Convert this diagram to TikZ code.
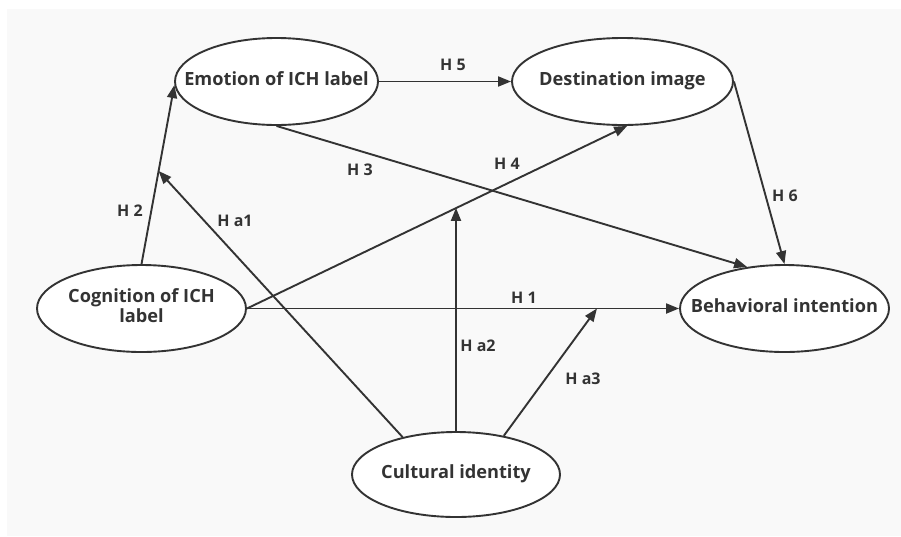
\documentclass[tikz,border=0pt]{standalone}
\usepackage{fontspec}
\setmainfont{Open Sans}
\usetikzlibrary{shapes.geometric,arrows.meta,calc}
\definecolor{ink}{HTML}{333333}
\definecolor{paper}{HTML}{F9F9F9}
% zero-width box so the ellipse keeps its own size
\newcommand{\ctext}[1]{\makebox[0pt][c]{\begin{tabular}{@{}c@{}}#1\end{tabular}}}
\begin{document}
\begin{tikzpicture}[x=1pt,y=-1pt,
  construct/.style={ellipse,draw=ink,line width=1.9pt,fill=white,inner sep=0pt,
    minimum height=87pt,text=ink,font=\fontsize{18.2}{20.5}\selectfont\bfseries},
  path/.style={draw=ink,line width=1.9pt,-{Triangle[length=13pt,width=10pt]}},
  hyp/.style={text=ink,font=\fontsize{16}{18}\selectfont\bfseries,inner sep=0pt}]
  % canvas
  \fill[white] (0,0) rectangle (901,536);
  \fill[paper] (7,9) rectangle (901,536);
  \useasboundingbox (0,0) rectangle (901,536);

  % latent constructs
  \node[construct,minimum width=203pt] (emo)  at (276.5,81.5) {\ctext{Emotion of ICH label}};
  \node[construct,minimum width=221pt] (dest) at (622.5,81.5) {\ctext{Destination image}};
  \node[construct,minimum width=209pt] (cog)  at (141.5,308.5) {\ctext{Cognition of ICH\\label}};
  \node[construct,minimum width=209pt] (beh)  at (784.5,308.5) {\ctext{Behavioral intention}};
  \node[construct,minimum width=208pt,minimum height=85pt] (cult) at (456,474.5) {\ctext{Cultural identity}};

  % direct hypotheses
  \draw[path] (cog.north) -- (emo.182);
  \draw[path] (emo.east) -- (dest.west);
  \draw[path] (emo.south) -- (beh.132);
  \draw[path] (cog.east) -- (dest.-84);
  \draw[path] (dest.east) -- (beh.north);
  \draw[path] (cog.east) -- (beh.west);

  % moderating effects of cultural identity
  \coordinate (a1) at ($(cog.north)!0.52!(emo.182)$);
  \coordinate (a2) at ($(cog.east)!0.551!(dest.-84)$);
  \coordinate (a3) at ($(cog.east)!0.81!(beh.west)$);
  \draw[path] (cult.145) -- (a1);
  \draw[path] (cult.north) -- (cult.north |- a2);
  \draw[path] (cult.39) -- (a3);

  % hypothesis labels
  \node[hyp] (h5) at (453,65) {H 5};
  \node[hyp] (h3) at (360,170) {H 3};
  \node[hyp] (h4) at (507,164) {H 4};
  \node[hyp] (h6) at (785,196) {H 6};
  \node[hyp] (h2) at (130,211) {H 2};
  \node[hyp] (ha1) at (235,221) {H a1};
  \node[hyp] (h1) at (524,298) {H 1};
  \node[hyp] (ha2) at (478,346) {H a2};
  \node[hyp] (ha3) at (583,379) {H a3};
\end{tikzpicture}
\end{document}
